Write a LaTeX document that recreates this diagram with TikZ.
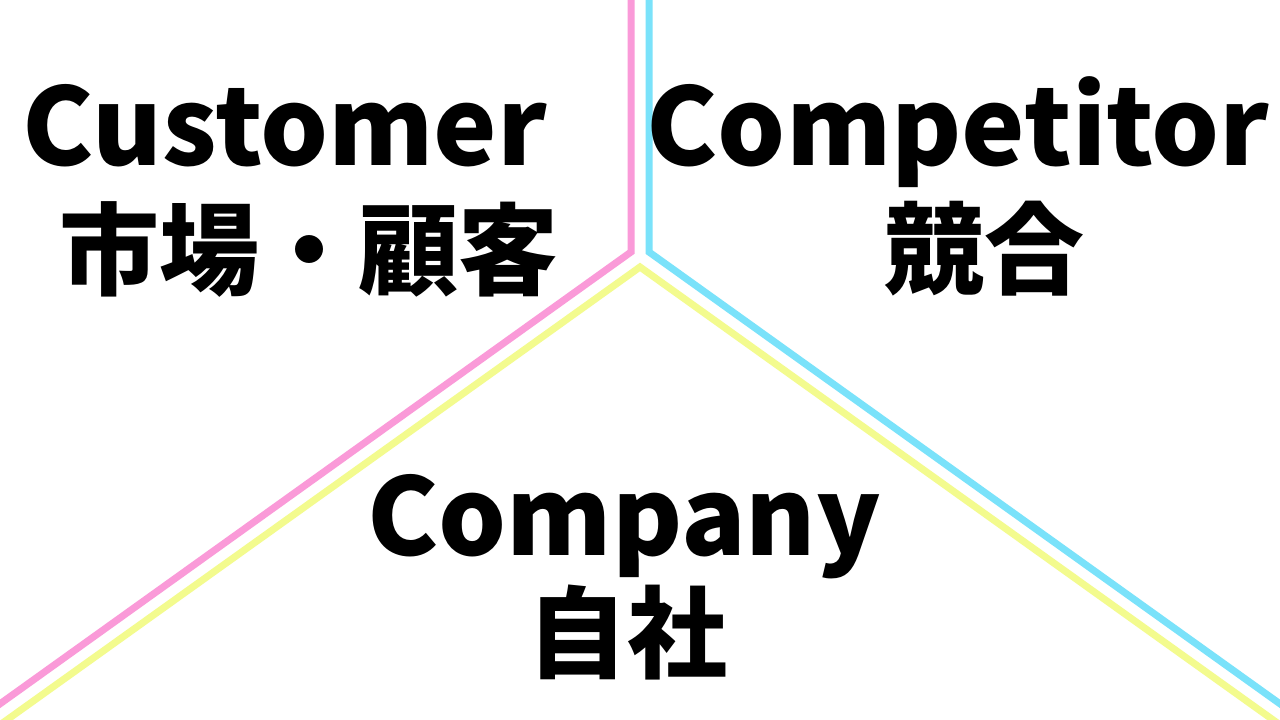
\documentclass[tikz,border=0pt]{standalone}
\usepackage{fontspec}
\newfontfamily\jp{Noto Sans CJK JP}[BoldFont={Noto Sans CJK JP Black}]
\definecolor{lpink}{HTML}{FA9AD8}
\definecolor{lcyan}{HTML}{7AE2FA}
\definecolor{lyellow}{HTML}{F3FB8E}
\begin{document}
\begin{tikzpicture}[x=1pt,y=-1pt,
  sep/.style={line width=7pt,miter limit=10},
  lbl/.style={inner sep=0pt,font=\jp\bfseries\fontsize{107}{107}\selectfont},
  jlbl/.style={inner sep=0pt,font=\jp\bfseries\fontsize{100}{100}\selectfont}]
\useasboundingbox (0,0) rectangle (1280,720);
\clip (0,0) rectangle (1280,720);
\fill[white] (0,0) rectangle (1280,720);
\coordinate (ptop) at (631,-10);
\coordinate (pmid) at (631,252);
\coordinate (pend) at (-10,711);
\coordinate (ctop) at (649,-10);
\coordinate (cmid) at (649,252);
\coordinate (cend) at (1290,711);
\coordinate (yapex) at (640,267);
\coordinate (yl) at (-10,732);
\coordinate (yr) at (1290,732);
\draw[sep,lpink] (ptop) -- (pmid) -- (pend);
\draw[sep,lcyan] (ctop) -- (cmid) -- (cend);
\draw[sep,lyellow] (yl) -- (yapex) -- (yr);
\node[lbl,anchor=base] (cu) at (285,165) {Customer};
\node[jlbl] (cuj) at (309,249) {市場・顧客};
\node[lbl,anchor=base] (co) at (958,165) {Competitor};
\node[jlbl] (coj) at (984,249) {競合};
\node[lbl,anchor=base] (cm) at (624,555) {Company};
\node[jlbl] (cmj) at (627,632) {自社};
\end{tikzpicture}
\end{document}
